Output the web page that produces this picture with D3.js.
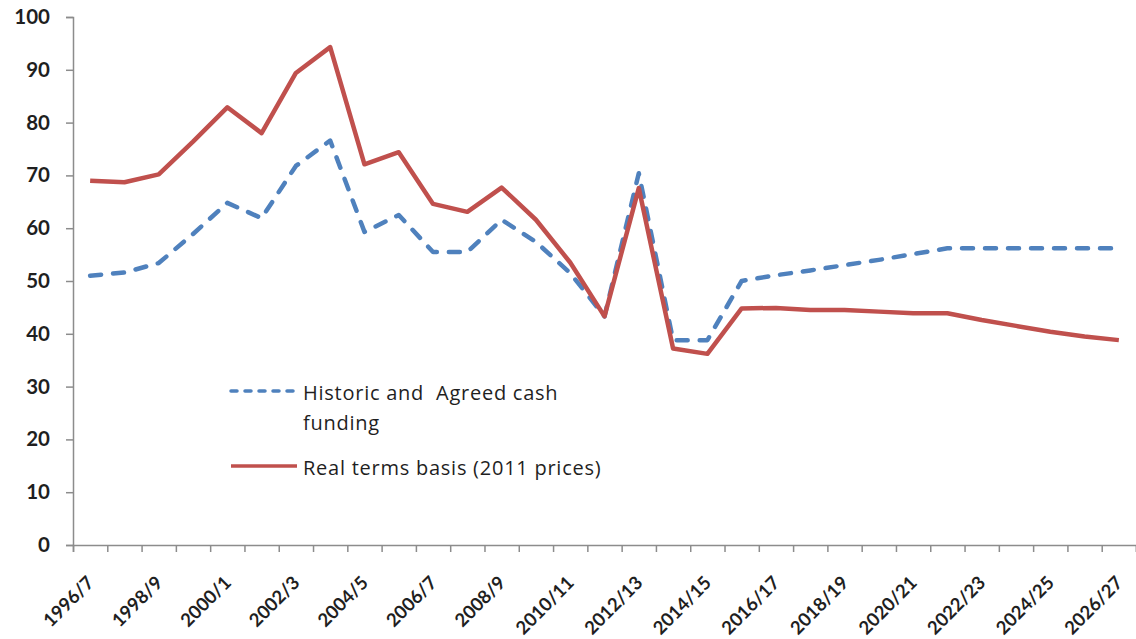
<!DOCTYPE html>
<html>
<head>
<meta charset="utf-8">
<script src="https://cdn.jsdelivr.net/npm/d3@7"></script>
<style>
  html, body { margin: 0; padding: 0; background: #fff; }
  svg { display: block; }
</style>
</head>
<body>
<div id="chart"></div>
<script>
// Colors
const blue = '#4F81BD';
const red = '#C0504D';
const axisColor = '#8c8c8c';
const textColor = '#1f1f1f';

const years = ["1996/7","1997/8","1998/9","1999/0","2000/1","2001/2","2002/3","2003/4","2004/5","2005/6",
  "2006/7","2007/8","2008/9","2009/10","2010/11","2011/12","2012/13","2013/14","2014/15","2015/16",
  "2016/17","2017/18","2018/19","2019/20","2020/21","2021/22","2022/23","2023/24","2024/25","2025/26","2026/27"];

const cashFunding = [51.0, 51.6, 53.4, 58.9, 64.8, 61.9, 71.8, 76.6, 59.3, 62.5,
  55.5, 55.5, 61.6, 57.4, 51.5, 43.3, 70.4, 38.8, 38.8, 50.0,
  51.1, 52.0, 53.0, 54.0, 55.1, 56.2, 56.2, 56.2, 56.2, 56.2, 56.2];

const realTerms = [69.0, 68.7, 70.2, 76.4, 82.9, 78.0, 89.4, 94.3, 72.1, 74.4,
  64.6, 63.1, 67.7, 61.6, 53.5, 43.3, 67.6, 37.2, 36.2, 44.8,
  44.9, 44.5, 44.5, 44.2, 43.9, 43.9, 42.6, 41.5, 40.4, 39.5, 38.8];

const yTicks = [0, 10, 20, 30, 40, 50, 60, 70, 80, 90, 100];

const series = [
  { name: ["Historic and  Agreed cash", "funding"], values: cashFunding, color: blue, dash: "11,12" },
  { name: ["Real terms basis (2011 prices)"], values: realTerms, color: red, dash: null }
];

const width = 1136, height = 639;
const plotLeft = 73, plotRight = 1136, plotTop = 17, plotBottom = 545;

const svg = d3.select("#chart").append("svg")
  .attr("width", width)
  .attr("height", height)
  .attr("font-family", "Lato, 'Open Sans', sans-serif");

const x = d3.scaleBand().domain(years).range([plotLeft, plotRight]);
const xi = d3.scaleLinear().domain([0, years.length]).range([plotLeft, plotRight]);
const y = d3.scaleLinear().domain([0, 100]).range([plotBottom, plotTop]);
const cx = d => x(d) + x.bandwidth() / 2;

// y axis
const yAxis = svg.append("g")
  .attr("transform", `translate(${plotLeft},0)`)
  .call(d3.axisLeft(y).tickValues(yTicks).tickSize(7).tickPadding(16));
yAxis.select(".domain").attr("stroke", axisColor).attr("stroke-width", 1.5);
yAxis.selectAll(".tick line").attr("stroke", axisColor).attr("stroke-width", 1.5);
yAxis.selectAll(".tick text")
  .attr("fill", textColor)
  .attr("font-size", 20.5)
  .attr("font-weight", "bold")
  .attr("font-family", "Lato, sans-serif");

// x axis: ticks between categories
const xAxis = svg.append("g")
  .attr("transform", `translate(0,${plotBottom})`)
  .call(d3.axisBottom(xi).tickValues(d3.range(0, years.length + 1)).tickSize(7).tickFormat(""));
xAxis.select(".domain").attr("stroke", axisColor).attr("stroke-width", 1.5);
xAxis.selectAll(".tick line").attr("stroke", axisColor).attr("stroke-width", 1.5);

svg.append("g")
  .selectAll("text")
  .data(years.filter((d, i) => i % 2 === 0))
  .join("text")
  .attr("transform", d => `translate(${cx(d) + 5},${plotBottom + 39}) rotate(-45)`)
  .attr("text-anchor", "end")
  .attr("fill", textColor)
  .attr("font-size", 18.5)
  .attr("font-weight", "bold")
  .text(d => d);

// lines
const line = d3.line()
  .x((d, i) => cx(years[i]))
  .y(d => y(d));

svg.append("g")
  .selectAll("path")
  .data(series)
  .join("path")
  .attr("fill", "none")
  .attr("stroke", d => d.color)
  .attr("stroke-width", 4.5)
  .attr("stroke-linejoin", "round")
  .attr("stroke-linecap", d => d.dash ? "round" : "butt")
  .attr("stroke-dasharray", d => d.dash)
  .attr("d", d => line(d.values));

// legend
const legendY = [391, 466];
const legend = svg.append("g")
  .selectAll("g")
  .data(series)
  .join("g")
  .attr("transform", (d, i) => `translate(230,${legendY[i]})`);

legend.append("line")
  .attr("x1", 1).attr("x2", 67)
  .attr("stroke", d => d.color)
  .attr("stroke-width", 3.5)
  .attr("stroke-linecap", d => d.dash ? "round" : "butt")
  .attr("stroke-dasharray", d => d.dash ? "6,8" : null);

legend.append("text")
  .attr("x", 73)
  .attr("fill", textColor)
  .attr("font-family", "'Open Sans', sans-serif")
  .attr("font-size", 20)
  .attr("letter-spacing", 0.75)
  .style("white-space", "pre")
  .selectAll("tspan")
  .data(d => d.name)
  .join("tspan")
  .attr("x", 73)
  .attr("y", (d, i) => 9 + i * 30)
  .text(d => d);
</script>
</body>
</html>
